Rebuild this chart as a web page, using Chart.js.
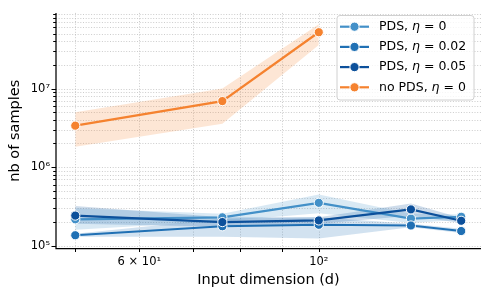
<!DOCTYPE html>
<html><head><meta charset="utf-8">
<script src="https://cdn.jsdelivr.net/npm/chart.js@4/dist/chart.umd.min.js"></script>
<style>html,body{margin:0;padding:0;background:#fff}</style>
</head><body>
<canvas id="c" width="489" height="298" style="display:block;width:489px;height:298px"></canvas>
<script>
// ---- data ----
const dims = [50, 76, 100, 130, 150];
const dimsNoPds = [50, 76, 100];

const pdsEta0     = [2.17e5, 2.30e5, 3.52e5, 2.22e5, 2.34e5];
const pdsEta0Lo   = [1.60e5, 2.05e5, 2.60e5, 1.95e5, 2.15e5];
const pdsEta0Hi   = [3.00e5, 2.55e5, 4.50e5, 2.55e5, 2.50e5];

const pdsEta002   = [1.36e5, 1.77e5, 1.85e5, 1.81e5, 1.54e5];
const pdsEta002Lo = [1.30e5, 1.30e5, 1.24e5, 1.72e5, 1.45e5];
const pdsEta002Hi = [1.42e5, 2.20e5, 2.30e5, 1.90e5, 1.65e5];

const pdsEta005   = [2.42e5, 2.00e5, 2.10e5, 2.90e5, 2.08e5];
const pdsEta005Lo = [1.90e5, 1.75e5, 1.90e5, 2.40e5, 1.95e5];
const pdsEta005Hi = [3.20e5, 2.30e5, 2.30e5, 3.45e5, 2.25e5];

const noPds   = [3.37e6, 6.92e6, 5.20e7];
const noPdsLo = [1.82e6, 3.56e6, 3.57e7];
const noPdsHi = [4.99e6, 1.00e7, 6.55e7];

const seriesNames = ['PDS, ', 'PDS, ', 'PDS, ', 'no PDS, '];
const seriesEta = ['0', '0.02', '0.05', '0'];
const colors = ['#4390c8', '#2070b4', '#0c509b', '#f5822f'];

const xTickValues = [50, 60, 70, 80, 90, 100];
const xTickLabels = ['', '6 × 10¹', '', '', '', '10²'];
const yDecades = [1e5, 1e6, 1e7];
const yDecadeLabels = ['10⁵', '10⁶', '10⁷'];

const xTitle = 'Input dimension (d)';
const yTitle = 'nb of samples';

// ---- helpers ----
function rgba(hex, a) {
  const n = parseInt(hex.slice(1), 16);
  return `rgba(${(n>>16)&255},${(n>>8)&255},${n&255},${a})`;
}
const pts = (xs, ys) => xs.map((x, i) => ({x, y: ys[i]}));

const X_MIN = 47.33, X_MAX = 158.7, Y_MIN = 9.23e4, Y_MAX = 9.16e7;

const yTickValues = [];
yDecades.forEach(d => { for (let k = 1; k <= 9; k++) { const v = d * k; if (v >= Y_MIN && v <= Y_MAX) yTickValues.push(v); } });
const yMajor = new Map(yDecades.map((d, i) => [d, yDecadeLabels[i]]));

const series = [
  {xs: dims, m: pdsEta0, lo: pdsEta0Lo, hi: pdsEta0Hi},
  {xs: dims, m: pdsEta002, lo: pdsEta002Lo, hi: pdsEta002Hi},
  {xs: dims, m: pdsEta005, lo: pdsEta005Lo, hi: pdsEta005Hi},
  {xs: dimsNoPds, m: noPds, lo: noPdsLo, hi: noPdsHi},
];

const datasets = [];
series.forEach((s, i) => {
  datasets.push({data: pts(s.xs, s.hi), borderWidth: 0, pointRadius: 0, fill: false, order: 20 + i, tension: 0});
  datasets.push({data: pts(s.xs, s.lo), borderWidth: 0, pointRadius: 0, fill: '-1',
    backgroundColor: rgba(colors[i], 0.2), order: 20 + i, tension: 0});
});
series.forEach((s, i) => {
  datasets.push({data: pts(s.xs, s.m), borderColor: colors[i], backgroundColor: colors[i],
    borderWidth: 2.2, pointRadius: 4.6, pointHoverRadius: 4.6, pointBorderColor: '#ffffff',
    pointBorderWidth: 1, pointBackgroundColor: colors[i], fill: false, order: 4 - i, tension: 0});
});

const FONT = 'DejaVu Sans';

const deco = {
  id: 'deco',
  beforeDatasetsDraw(chart) {
    const {ctx, chartArea: a, scales: {x, y}} = chart;
    ctx.save();
    ctx.strokeStyle = 'rgba(175,175,175,0.8)';
    ctx.lineWidth = 0.8;
    ctx.setLineDash([1, 1.7]);
    x.ticks.forEach(t => {
      const p = Math.round(x.getPixelForValue(t.value)) + 0.5;
      ctx.beginPath(); ctx.moveTo(p, a.top); ctx.lineTo(p, a.bottom); ctx.stroke();
    });
    y.ticks.forEach(t => {
      const p = Math.round(y.getPixelForValue(t.value)) + 0.5;
      ctx.beginPath(); ctx.moveTo(a.left, p); ctx.lineTo(a.right, p); ctx.stroke();
    });
    ctx.restore();
  },
  afterDatasetsDraw(chart) {
    const {ctx, chartArea: a, scales: {x, y}} = chart;
    ctx.save();
    ctx.strokeStyle = '#000';
    ctx.lineWidth = 1.25;
    ctx.setLineDash([]);
    ctx.beginPath();
    ctx.moveTo(a.left, a.top); ctx.lineTo(a.left, a.bottom); ctx.lineTo(a.right, a.bottom);
    ctx.stroke();
    ctx.lineWidth = 1;
    x.ticks.forEach(t => {
      const p = Math.round(x.getPixelForValue(t.value)) + 0.5;
      ctx.beginPath(); ctx.moveTo(p, a.bottom); ctx.lineTo(p, a.bottom + 3.5); ctx.stroke();
    });
    y.ticks.forEach(t => {
      const p = Math.round(y.getPixelForValue(t.value)) + 0.5;
      const len = yMajor.has(t.value) ? 4.5 : 2.8;
      ctx.beginPath(); ctx.moveTo(a.left, p); ctx.lineTo(a.left - len, p); ctx.stroke();
    });

    // legend
    const bx = 336.5, by = 15, bw = 137, bh = 84.5, r = 3;
    ctx.fillStyle = 'rgba(255,255,255,0.8)';
    ctx.strokeStyle = '#d0d0d0';
    ctx.lineWidth = 1;
    ctx.beginPath();
    ctx.roundRect(bx + 0.5, by + 0.5, bw, bh, r);
    ctx.fill(); ctx.stroke();
    const fs = 12.5;
    for (let i = 0; i < 4; i++) {
      const cy = by + 11.7 + i * 20.2;
      ctx.strokeStyle = colors[i];
      ctx.lineWidth = 2.2;
      ctx.beginPath(); ctx.moveTo(340, cy); ctx.lineTo(369, cy); ctx.stroke();
      ctx.fillStyle = colors[i];
      ctx.strokeStyle = '#fff'; ctx.lineWidth = 1;
      ctx.beginPath(); ctx.arc(354.5, cy, 4.6, 0, Math.PI * 2); ctx.fill(); ctx.stroke();
      ctx.fillStyle = '#000';
      ctx.textBaseline = 'middle';
      ctx.textAlign = 'left';
      let tx = 379;
      ctx.font = `${fs}px "${FONT}"`;
      ctx.fillText(seriesNames[i], tx, cy);
      tx += ctx.measureText(seriesNames[i]).width;
      ctx.font = `italic ${fs}px "${FONT}"`;
      ctx.fillText('η', tx, cy);
      tx += ctx.measureText('η').width;
      ctx.font = `${fs}px "${FONT}"`;
      const rest = ' = ' + seriesEta[i];
      ctx.fillText(rest, tx, cy);
    }
    ctx.restore();
  }
};

new Chart(document.getElementById('c'), {
  type: 'line',
  data: {datasets},
  plugins: [deco],
  options: {
    responsive: false,
    animation: false,
    devicePixelRatio: 1,
    layout: {padding: {top: 9, right: 8, left: 0, bottom: 0}},
    plugins: {legend: {display: false}, tooltip: {enabled: false}},
    scales: {
      x: {
        type: 'logarithmic', min: X_MIN, max: X_MAX,
        grid: {display: false, drawTicks: false},
        border: {display: false},
        afterBuildTicks: s => { s.ticks = xTickValues.map(v => ({value: v})); },
        afterFit: s => { s.height = 49.5; },
        ticks: {autoSkip: false, maxRotation: 0, padding: 7, color: '#000',
          font: {family: FONT, size: 11.5},
          callback: (v) => { const i = xTickValues.indexOf(v); return i >= 0 ? xTickLabels[i] : ''; }},
        title: {display: true, text: xTitle, color: '#000', font: {family: FONT, size: 14.5}, padding: {top: 0, bottom: 9}}
      },
      y: {
        type: 'logarithmic', min: Y_MIN, max: Y_MAX,
        grid: {display: false, drawTicks: false},
        border: {display: false},
        afterBuildTicks: s => { s.ticks = yTickValues.map(v => ({value: v})); },
        afterFit: s => { s.width = 56; },
        ticks: {autoSkip: false, padding: 6, color: '#000',
          font: {family: FONT, size: 11.5},
          callback: (v) => yMajor.has(v) ? yMajor.get(v) : ''},
        title: {display: true, text: yTitle, color: '#000', font: {family: FONT, size: 14.5}, padding: {top: 7, bottom: 0}}
      }
    }
  }
});
</script>
</body></html>
